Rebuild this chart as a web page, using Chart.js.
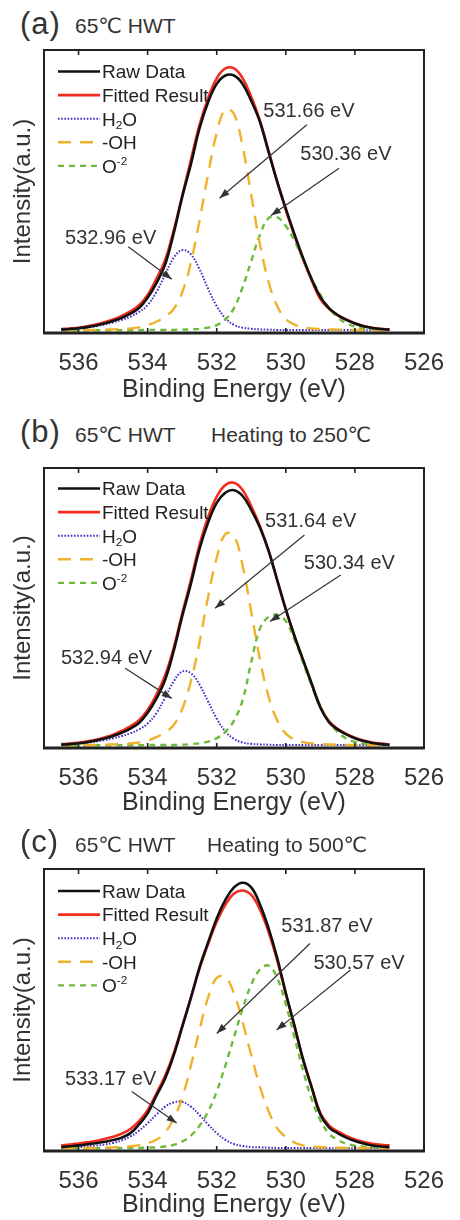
<!DOCTYPE html>
<html>
<head>
<meta charset="utf-8">
<script src="https://cdn.jsdelivr.net/npm/chart.js@4.4.1/dist/chart.umd.min.js"></script>
<style>
  body { margin: 0; background: #fff; }
  #wrap { position: relative; width: 460px; height: 1220px; overflow: hidden;
          font-family: 'Liberation Sans', Arial, 'DejaVu Sans', sans-serif; color: #333; }
  #wrap canvas { position: absolute; left: 0; }
  .tag { position: absolute; left: 20px; font-size: 31px; line-height: 1; letter-spacing: 1px; }
  .cond { position: absolute; font-size: 21px; line-height: 1; white-space: nowrap; }
</style>
</head>
<body>
<div id="wrap">
  <div class="tag" style="top:8px">(a)</div>
  <div class="cond" style="top:15px;left:75px">65℃ HWT</div>
  <canvas id="chartA" width="460" height="410" style="top:0"></canvas>

  <div class="tag" style="top:416px">(b)</div>
  <div class="cond" style="top:424px;left:75px">65℃ HWT</div>
  <div class="cond" style="top:424px;left:211px">Heating to 250℃</div>
  <canvas id="chartB" width="460" height="418" style="top:410px"></canvas>

  <div class="tag" style="top:826px">(c)</div>
  <div class="cond" style="top:834px;left:75px">65℃ HWT</div>
  <div class="cond" style="top:834px;left:207px">Heating to 500℃</div>
  <canvas id="chartC" width="460" height="405" style="top:815px"></canvas>
</div>

<script>
// Energía de enlace (eV), común a los tres espectros
const energies = [536.5, 536.25, 536, 535.75, 535.5, 535.25, 535, 534.75, 534.5, 534.25,
  534, 533.75, 533.5, 533.25, 533, 532.75, 532.5, 532.25, 532, 531.75,
  531.5, 531.25, 531, 530.75, 530.5, 530.25, 530, 529.75, 529.5, 529.25,
  529, 528.75, 528.5, 528.25, 528, 527.75, 527.5, 527.25, 527];
const xTicks = [536, 534, 532, 530, 528, 526];

// (a) 65℃ HWT
const rawA = [0.2,0.4,0.7,1.1,1.7,2.4,3.3,4.4,5.9,7.9,11.6,16.7,23.2,34.4,47.5,59.1,71.9,81.3,87.9,90.9,90.9,87.9,81.8,74.4,63.6,53.0,43.4,34.3,25.8,18.2,11.9,7.9,5.4,3.7,2.4,1.4,0.8,0.4,0.2];
const fitA = [0.4,0.6,0.9,1.4,2.0,2.8,3.8,5.1,6.7,8.9,12.6,18.2,24.8,35.4,48.0,60.6,73.2,82.8,89.9,93.4,93.4,89.9,83.3,74.8,64.1,53.0,42.9,33.8,25.3,17.7,11.1,7.6,5.4,3.8,2.5,1.5,0.9,0.5,0.3];
const h2oA = [0.4,0.5,0.7,1.0,1.4,2.0,2.8,3.7,4.8,6.5,9.0,13.5,19.7,25.7,28.6,27.1,21.8,14.8,8.6,4.3,1.9,0.9,0.5,0.3,0.2,0.1,0.1,0.1,0.1,0.1,0.1,0.1,0.1,0.1,0.1,0,0,0,0];
const ohA = [0,0,0,0.1,0.1,0.2,0.3,0.4,0.6,1.0,1.8,3.0,4.8,7.5,13.5,24.0,39.0,55.6,70.4,78.8,77.2,65.5,48.2,30.8,17.3,8.6,4.0,2.0,1.1,0.6,0.4,0.3,0.2,0.1,0.1,0,0,0,0];
const oxA = [0,0,0,0,0,0,0,0,0,0,0.1,0.1,0.1,0.1,0.2,0.3,0.5,0.9,1.8,3.8,7.9,15.3,24.7,34.0,40.0,40.3,37.2,31.9,25.2,18.4,12.6,7.9,4.6,2.4,1.3,0.6,0.3,0.1,0.1];

// (b) calentado a 250℃
const rawB = [0.2,0.4,0.7,1.1,1.7,2.4,3.3,4.5,6.0,8.0,11.7,16.7,23.4,33.8,46.5,58.1,70.7,80.3,87.4,91.1,92.0,89.9,84.9,78.5,70.2,59.6,49.0,39.4,30.8,22.2,13.6,8.3,5.7,3.9,2.5,1.5,0.8,0.4,0.2];
const fitB = [0.4,0.6,0.9,1.4,2.0,2.8,3.8,5.2,6.8,9.0,12.7,18.2,25.0,34.9,47.5,59.4,72.2,82.3,89.7,93.9,94.7,92.1,86.2,79.1,70.3,59.6,49.0,39.4,30.6,22.0,13.8,8.7,5.9,4.1,2.7,1.7,1.0,0.6,0.3];
const h2oB = [0.4,0.5,0.6,0.9,1.3,1.8,2.5,3.3,4.3,5.7,7.8,11.5,17.0,22.9,26.6,26.0,21.9,15.8,9.6,5.0,2.3,1.0,0.5,0.3,0.2,0.1,0.1,0.1,0.1,0.1,0.1,0.1,0.1,0.1,0.1,0,0,0,0];
const ohB = [0,0,0,0.1,0.1,0.2,0.3,0.4,0.6,1.0,1.7,2.9,4.6,7.2,13.0,23.0,37.0,53.5,67.6,76.2,75.6,64.7,48.1,31.0,17.6,9.0,4.2,2.0,1.1,0.6,0.4,0.3,0.2,0.1,0.1,0,0,0,0];
const oxB = [0,0,0,0,0,0,0,0,0,0,0.1,0.1,0.1,0.1,0.2,0.4,0.7,1.3,2.5,4.8,8.9,16.3,30.0,42.0,46.3,47.0,44.8,38.1,29.8,21.4,14.2,8.5,4.8,2.4,1.2,0.6,0.3,0.1,0.1];

// (c) calentado a 500℃
const rawC = [0.4,0.7,1.0,1.4,1.8,2.3,2.9,3.8,5.4,8.5,12.5,18.7,24.8,33.1,43.4,53.8,64.7,73.7,82.3,88.9,93.4,95.1,93.4,87.4,78.8,68.2,55.6,43.9,31.8,21.7,12.1,7.5,5.4,3.8,2.6,1.7,1.0,0.6,0.4];
const fitC = [1.0,1.3,1.7,2.1,2.6,3.3,4.1,5.2,6.9,9.7,13.6,19.5,25.8,33.8,43.7,53.8,64.2,73.1,81.1,87.2,91.2,92.3,90.7,85.5,77.5,67.3,55.3,43.7,31.8,21.9,12.6,8.2,6.0,4.4,3.1,2.2,1.6,1.2,1.0];
const h2oC = [0.2,0.3,0.4,0.6,0.9,1.3,1.9,2.8,4.2,6.3,8.9,12.0,14.8,16.4,16.6,14.9,11.9,8.5,5.4,3.0,1.5,0.8,0.4,0.3,0.2,0.1,0.1,0.1,0.1,0.1,0.1,0,0,0,0,0,0,0,0];
const ohC = [0,0,0,0.1,0.1,0.2,0.3,0.4,0.7,1.1,1.8,3.0,5.5,10.5,18.0,29.5,42.3,53.9,61.0,61.3,55.4,45.2,33.3,22.1,13.3,7.1,4.0,2.0,1.0,0.6,0.4,0.3,0.2,0.1,0.1,0,0,0,0];
const oxC = [0,0,0,0,0,0,0,0.1,0.1,0.1,0.2,0.3,0.6,1.2,2.4,4.5,8.0,13.1,20.3,29.6,39.8,49.9,58.6,64.0,65.4,61.0,51.6,39.8,27.8,17.5,10.0,5.2,3.0,1.6,0.9,0.5,0.3,0.2,0.1];

// Anotaciones de picos: texto, posición del texto y flecha (en eV / intensidad)
const notesA = [
  { text: '531.66 eV', at: [530.65, 78.0], from: [529.39, 73.3], to: [531.92, 47.1] },
  { text: '530.36 eV', at: [529.58, 62.6], from: [528.46, 57.8], to: [530.43, 40.9] },
  { text: '532.96 eV', at: [536.39, 32.8], from: [534.56, 29.8], to: [533.30, 18.2] }
];
const notesB = [
  { text: '531.64 eV', at: [530.60, 80.6], from: [529.46, 75.8], to: [532.05, 49.4] },
  { text: '530.34 eV', at: [529.48, 65.6], from: [528.41, 61.4], to: [530.46, 44.6] },
  { text: '532.94 eV', at: [536.51, 31.4], from: [534.65, 27.8], to: [533.30, 16.9] }
];
const notesC = [
  { text: '531.87 eV', at: [530.13, 79.3], from: [529.30, 73.3], to: [532.00, 41.1] },
  { text: '530.57 eV', at: [529.20, 66.1], from: [528.13, 63.8], to: [530.27, 42.3] },
  { text: '533.17 eV', at: [536.39, 24.5], from: [534.46, 20.3], to: [533.16, 9.0] }
];

// Etiquetas de leyenda (con subíndice / superíndice)
const legendLabels = [
  [['Raw Data']],
  [['Fitted Result']],
  [['H'], ['2', 'sub'], ['O']],
  [['-OH']],
  [['O'], ['-2', 'sup']]
];

const FONT = "'Liberation Sans', Arial, 'DejaVu Sans', sans-serif";
Chart.defaults.font.family = FONT;
Chart.defaults.color = '#333';

// Estilos de cada serie
const styles = [
  { color: '#111111', width: 2.6, dash: [], order: 0 },
  { color: '#f42b1d', width: 2.6, dash: [], order: 3 },
  { color: '#4a2dc2', width: 2, dash: [1.6, 1.6], order: 2 },
  { color: '#efb22c', width: 2.4, dash: [13, 9], order: 1 },
  { color: '#6cbb3a', width: 2.4, dash: [6, 5], order: 1 }
];

function drawRich(ctx, parts, x, y, size) {
  parts.forEach(([t, kind]) => {
    const s = kind ? size * 0.62 : size;
    ctx.font = s + 'px ' + FONT;
    const dy = kind === 'sub' ? size * 0.2 : kind === 'sup' ? -size * 0.42 : 0;
    ctx.fillText(t, x, y + dy);
    x += ctx.measureText(t).width;
  });
}

const panelDecor = {
  id: 'panelDecor',
  afterDraw(chart, args, opts) {
    const { ctx, chartArea: a, scales: { x, y } } = chart;
    ctx.save();
    ctx.setLineDash([]);
    ctx.strokeStyle = '#222';

    // marcas de ticks hacia dentro (arriba y abajo)
    ctx.lineWidth = 1.6;
    xTicks.forEach(v => {
      const px = x.getPixelForValue(v);
      ctx.beginPath();
      ctx.moveTo(px, a.bottom); ctx.lineTo(px, a.bottom - 5);
      ctx.moveTo(px, a.top); ctx.lineTo(px, a.top + 5);
      ctx.stroke();
    });

    // marco
    ctx.lineWidth = 2;
    ctx.strokeRect(a.left, a.top, a.right - a.left, a.bottom - a.top);
    ctx.lineWidth = 3;
    ctx.beginPath(); ctx.moveTo(a.left - 1, a.bottom); ctx.lineTo(a.right + 1, a.bottom); ctx.stroke();

    // leyenda
    chart.data.datasets.forEach((ds, i) => {
      const ry = a.top + opts.legendTop + i * 23.6;
      ctx.strokeStyle = ds.borderColor;
      ctx.lineWidth = ds.borderWidth;
      ctx.setLineDash(ds.borderDash);
      ctx.beginPath(); ctx.moveTo(a.left + 14, ry); ctx.lineTo(a.left + 56, ry); ctx.stroke();
      ctx.setLineDash([]);
      ctx.fillStyle = '#222';
      ctx.textBaseline = 'alphabetic';
      ctx.textAlign = 'left';
      drawRich(ctx, legendLabels[i], a.left + 58, ry + 6.8, 19);
    });

    // anotaciones con flechas
    opts.notes.forEach(n => {
      ctx.fillStyle = '#333';
      ctx.font = '20px ' + FONT;
      ctx.textBaseline = 'middle';
      ctx.textAlign = 'left';
      ctx.fillText(n.text, x.getPixelForValue(n.at[0]), y.getPixelForValue(n.at[1]));
      const x1 = x.getPixelForValue(n.from[0]), y1 = y.getPixelForValue(n.from[1]);
      const x2 = x.getPixelForValue(n.to[0]), y2 = y.getPixelForValue(n.to[1]);
      ctx.strokeStyle = '#333';
      ctx.lineWidth = 1.2;
      ctx.beginPath(); ctx.moveTo(x1, y1); ctx.lineTo(x2, y2); ctx.stroke();
      const ang = Math.atan2(y2 - y1, x2 - x1);
      const L = 10, W = 3.6;
      ctx.beginPath();
      ctx.moveTo(x2, y2);
      ctx.lineTo(x2 - L * Math.cos(ang) + W * Math.sin(ang), y2 - L * Math.sin(ang) - W * Math.cos(ang));
      ctx.lineTo(x2 - L * Math.cos(ang) - W * Math.sin(ang), y2 - L * Math.sin(ang) + W * Math.cos(ang));
      ctx.closePath();
      ctx.fill();
    });
    ctx.restore();
  }
};

function makePanel(p) {
  const series = [p.raw, p.fit, p.h2o, p.oh, p.ox];
  const names = ['Raw Data', 'Fitted Result', 'H2O', '-OH', 'O-2'];
  const ctx = document.getElementById(p.id).getContext('2d');
  return new Chart(ctx, {
    type: 'line',
    data: {
      labels: energies,
      datasets: series.map((d, i) => ({
        label: names[i],
        data: d,
        borderColor: styles[i].color,
        borderWidth: styles[i].width,
        borderDash: styles[i].dash,
        borderCapStyle: 'butt',
        order: styles[i].order,
        pointRadius: 0,
        tension: 0.4,
        fill: false
      }))
    },
    options: {
      responsive: false,
      animation: false,
      devicePixelRatio: 1,
      events: [],
      layout: { padding: { top: p.plotTop, right: 22, left: 0, bottom: 0 } },
      plugins: {
        legend: { display: false },
        tooltip: { enabled: false },
        panelDecor: { notes: p.notes, legendTop: p.legendTop }
      },
      scales: {
        x: {
          type: 'linear',
          reverse: true,
          min: 526,
          max: 537,
          afterBuildTicks: s => { s.ticks = xTicks.map(v => ({ value: v })); },
          afterFit: s => { s.height = p.height - p.plotBottom; },
          grid: { display: false, drawTicks: false },
          border: { display: false },
          ticks: { font: { size: 24 }, color: '#333', padding: 16, maxRotation: 0, autoSkip: false },
          title: {
            display: true,
            text: 'Binding Energy (eV)',
            font: { size: 25, lineHeight: 1 },
            color: '#333',
            padding: { top: 0, bottom: p.titlePad }
          }
        },
        y: {
          min: -1,
          max: 100,
          afterFit: s => { s.width = 44; },
          grid: { display: false, drawTicks: false },
          border: { display: false },
          ticks: { display: false },
          title: {
            display: true,
            text: 'Intensity(a.u.)',
            font: { size: 24 },
            color: '#333',
            padding: { top: 9, bottom: 0 }
          }
        }
      }
    },
    plugins: [panelDecor]
  });
}

makePanel({ id: 'chartA', height: 410, plotTop: 50, plotBottom: 333, titlePad: 7, legendTop: 21.5,
  raw: rawA, fit: fitA, h2o: h2oA, oh: ohA, ox: oxA, notes: notesA });
makePanel({ id: 'chartB', height: 418, plotTop: 58, plotBottom: 338, titlePad: 12.5, legendTop: 20.5,
  raw: rawB, fit: fitB, h2o: h2oB, oh: ohB, ox: oxB, notes: notesB });
makePanel({ id: 'chartC', height: 405, plotTop: 54, plotBottom: 336, titlePad: 2.5, legendTop: 22,
  raw: rawC, fit: fitC, h2o: h2oC, oh: ohC, ox: oxC, notes: notesC });
</script>
</body>
</html>
